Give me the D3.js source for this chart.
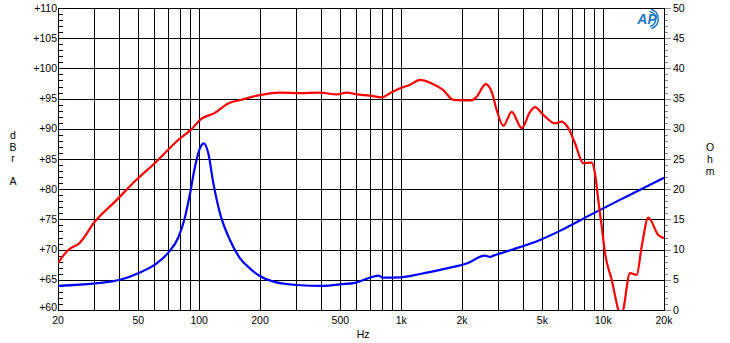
<!DOCTYPE html>
<html>
<head>
<meta charset="utf-8">
<script src="https://cdn.jsdelivr.net/npm/d3@7"></script>
<style>
  body { margin: 0; background: #fff; }
  svg text { font-family: "Liberation Sans", Arial, sans-serif; font-size: 10.5px; fill: #000; }
</style>
</head>
<body>
<div id="chart"></div>
<script>
// data
var splFreq = [20, 22.4, 25.6, 30.4, 38.2, 49.8, 60.2, 78.5, 91.4, 102, 119, 139, 162, 194, 251, 316, 396, 480, 537, 602, 701, 801, 880, 968, 1106, 1239, 1416, 1616, 1812, 2234, 2364, 2620, 2806, 2970, 3204, 3524, 3950, 4342, 4596, 5054, 5774, 6232, 6720, 7252, 7972, 8770, 9108, 9458, 9832, 10210, 11016, 11880, 12250, 12572, 13574, 14650, 15508, 16724, 18744, 20000];
var splDb = [67.8, 69.9, 71.1, 74.6, 77.9, 81.8, 84.3, 88.1, 89.9, 91.6, 92.6, 94.2, 94.8, 95.5, 96.0, 95.9, 96.0, 95.7, 96.0, 95.7, 95.5, 95.2, 95.9, 96.6, 97.3, 98.1, 97.5, 96.4, 94.8, 94.7, 95.3, 97.4, 96.1, 93.1, 90.5, 92.8, 90.1, 92.8, 93.6, 92.3, 90.9, 91.2, 90.1, 87.6, 84.3, 84.4, 82.6, 78.2, 73.8, 69.4, 65.0, 60.0, 58.5, 60.0, 66.1, 65.8, 70.5, 75.3, 72.4, 71.9];

var impFreq = [20, 30.5, 40.6, 50.9, 61.6, 70.3, 78.8, 85.1, 90.1, 95.3, 100.9, 105.6, 111, 117.5, 126.8, 142, 159, 178, 196, 233, 304, 412, 498, 590, 687, 770, 815, 986, 1239, 1680, 2110, 2600, 2752, 2858, 3590, 4864, 6110, 8934, 13072, 20000];
var impOhm = [4.0, 4.4, 5.0, 6.2, 7.7, 9.5, 12.0, 15.4, 19.3, 23.7, 26.8, 27.6, 25.9, 21.0, 16.0, 11.6, 8.6, 6.9, 5.8, 4.7, 4.14, 4.0, 4.25, 4.5, 5.25, 5.7, 5.35, 5.4, 5.96, 6.9, 7.7, 9.0, 8.8, 9.0, 10.05, 11.6, 13.1, 16.0, 18.8, 21.9];

var xTicks = [20, 50, 100, 200, 500, 1000, 2000, 5000, 10000, 20000];
var xTickLabels = ["20", "50", "100", "200", "500", "1k", "2k", "5k", "10k", "20k"];
var xGrid = [30, 40, 60, 70, 80, 90, 300, 400, 600, 700, 800, 900, 3000, 4000, 6000, 7000, 8000, 9000];
var leftTicks = [60, 65, 70, 75, 80, 85, 90, 95, 100, 105, 110];
var rightTicks = [0, 5, 10, 15, 20, 25, 30, 35, 40, 45, 50];

var W = 730, H = 343;
var margin = { top: 8, right: 66, bottom: 33, left: 58 };
var w = W - margin.left - margin.right;
var h = H - margin.top - margin.bottom;

var x = d3.scaleLog().domain([20, 20000]).range([0, w]);
var yL = d3.scaleLinear().domain([60, 110]).range([h, 0]);
var yR = d3.scaleLinear().domain([0, 50]).range([h, 0]);

var svg = d3.select("#chart").append("svg")
    .attr("width", W).attr("height", H);

var g = svg.append("g")
    .attr("transform", "translate(" + margin.left + "," + margin.top + ")");

g.append("clipPath").attr("id", "clip")
  .append("rect").attr("width", w).attr("height", h);

// grid
g.selectAll(".vgrid")
    .data(xTicks.concat(xGrid))
    .enter().append("line")
    .attr("x1", function(d) { return Math.round(x(d)) + 0.5; })
    .attr("x2", function(d) { return Math.round(x(d)) + 0.5; })
    .attr("y1", 0).attr("y2", h)
    .style("stroke", "#000").style("stroke-width", 1);

g.selectAll(".hgrid")
    .data(leftTicks)
    .enter().append("line")
    .attr("x1", 0).attr("x2", w)
    .attr("y1", function(d) { return Math.round(yL(d)) + 0.5; })
    .attr("y2", function(d) { return Math.round(yL(d)) + 0.5; })
    .style("stroke", "#000").style("stroke-width", 1);

// left minor ticks (inside)
g.selectAll(".lminor")
    .data(d3.range(60, 111, 1))
    .enter().append("line")
    .attr("x1", 0).attr("x2", 5)
    .attr("y1", function(d) { return Math.round(yL(d)) + 0.5; })
    .attr("y2", function(d) { return Math.round(yL(d)) + 0.5; })
    .style("stroke", "#000");

// right ticks (outside, grey)
g.selectAll(".rminor")
    .data(d3.range(0, 51, 1))
    .enter().append("line")
    .attr("x1", w).attr("x2", function(d) { return d % 5 === 0 ? w + 7 : w + 4; })
    .attr("y1", function(d) { return Math.round(yR(d)) + 0.5; })
    .attr("y2", function(d) { return Math.round(yR(d)) + 0.5; })
    .style("stroke", "#888");

// frame
g.append("rect")
    .attr("x", 0.5).attr("y", 0.5)
    .attr("width", w).attr("height", h)
    .style("fill", "none").style("stroke", "#000");

// tick labels
g.selectAll(".ltl")
    .data(leftTicks)
    .enter().append("text")
    .attr("x", -1)
    .attr("y", function(d) { return yL(d); })
    .attr("dy", d => d === 60 ? "0.1em" : "0.35em")
    .style("text-anchor", "end")
    .text(function(d) { return "+" + d; });

g.selectAll(".rtl")
    .data(rightTicks)
    .enter().append("text")
    .attr("x", w + 9)
    .attr("y", function(d) { return yR(d); })
    .attr("dy", "0.35em")
    .text(function(d) { return d; });

g.selectAll(".xtl")
    .data(xTicks)
    .enter().append("text")
    .attr("x", function(d) { return x(d); })
    .attr("y", h + 14)
    .style("text-anchor", "middle")
    .text(function(d, i) { return xTickLabels[i]; });

// axis titles
g.append("text")
    .attr("x", x(1000) - 38).attr("y", h + 28)
    .style("text-anchor", "middle")
    .text("Hz");

var leftTitle = ["d", "B", "r", "", "A"];
svg.selectAll(".ltitle")
    .data(leftTitle)
    .enter().append("text")
    .attr("x", 13)
    .attr("y", function(d, i) { return 139 + i * 11.5; })
    .style("text-anchor", "middle")
    .text(function(d) { return d; });

var rightTitle = ["O", "h", "m"];
svg.selectAll(".rtitle")
    .data(rightTitle)
    .enter().append("text")
    .attr("x", 710)
    .attr("y", function(d, i) { return 151 + i * 12; })
    .style("text-anchor", "middle")
    .text(function(d) { return d; });

// curves
var curves = g.append("g").attr("clip-path", "url(#clip)");

var splLine = d3.line()
    .x(function(d, i) { return x(splFreq[i]); })
    .y(function(d) { return yL(d); })
    .curve(d3.curveMonotoneX);

var impLine = d3.line()
    .x(function(d, i) { return x(impFreq[i]); })
    .y(function(d) { return yR(d); })
    .curve(d3.curveMonotoneX);

curves.append("path")
    .datum(impOhm)
    .attr("d", impLine)
    .style("fill", "none")
    .style("stroke", "#0000ff")
    .style("stroke-width", 2.2);

curves.append("path")
    .datum(splDb)
    .attr("d", splLine)
    .style("fill", "none")
    .style("stroke", "#ff0000")
    .style("stroke-width", 2.2);

// AP logo
var logo = svg.append("g").attr("transform", "translate(648,19)");
logo.append("path")
    .attr("d", d3.arc()({ innerRadius: 7, outerRadius: 8.5, startAngle: 0.2, endAngle: 2.9 }))
    .style("fill", "#1f78c1");
logo.append("path")
    .attr("d", d3.arc()({ innerRadius: 9.5, outerRadius: 11, startAngle: 0.3, endAngle: 2.8 }))
    .style("fill", "#1f78c1");
logo.append("text")
    .attr("x", -1).attr("y", 5)
    .style("text-anchor", "middle")
    .style("font-size", "14px")
    .style("font-weight", "bold")
    .style("font-style", "italic")
    .style("fill", "#1f78c1")
    .text("AP");
</script>
</body>
</html>
